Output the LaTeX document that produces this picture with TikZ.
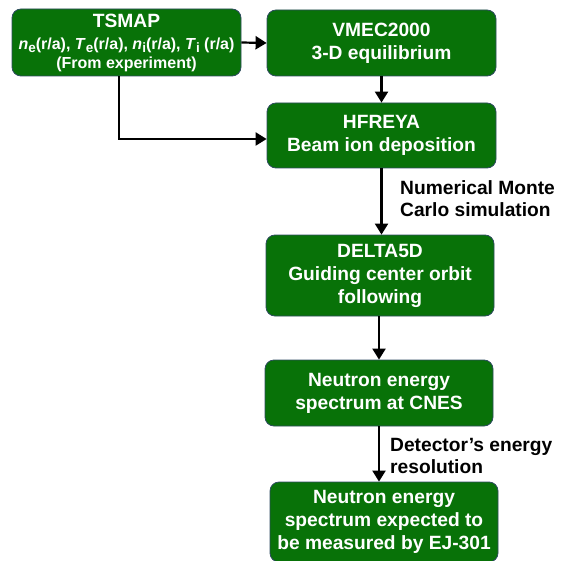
\documentclass[tikz,border=0pt]{standalone}
\usepackage{fontspec}
\setmainfont{Liberation Sans}
\usetikzlibrary{arrows.meta}
\definecolor{boxgreen}{RGB}{8,114,8}
\definecolor{boxedge}{RGB}{45,75,95}
\newcommand{\sub}[1]{\raisebox{-3pt}{\fontsize{13.5}{13.5}\selectfont #1}}
\begin{document}
\begin{tikzpicture}[x=1pt,y=-1pt,
  box/.style={draw=boxedge, line width=0.8pt, fill=boxgreen, rounded corners=9pt,
    text=white, font=\bfseries\fontsize{19.2}{23}\selectfont, align=center, inner sep=0pt},
  flow/.style={draw=black, line width=2.2pt, -{Triangle[length=11pt,width=13pt]}},
  note/.style={font=\bfseries\fontsize{19.2}{22}\selectfont, align=left, inner sep=0pt, anchor=west}]
\useasboundingbox (0,0) rectangle (561,561);
\node[box, minimum width=229pt, minimum height=67pt, font=\bfseries\fontsize{16}{19}\selectfont] (tsmap) at (126.5,42.5)
  {{\fontsize{19.2}{19}\selectfont TSMAP}\\[3pt]
   \textit{n}\sub{e}(r/a), \textit{T}\sub{e}(r/a), \textit{n}\sub{i}(r/a), \textit{T}\sub{i} (r/a)\\
   (From experiment)};
\node[box, minimum width=229pt, minimum height=66pt] (vmec) at (381.5,43) {VMEC2000\\3-D equilibrium};
\node[box, minimum width=229pt, minimum height=65pt] (hfreya) at (381.5,135.5) {HFREYA\\Beam ion deposition};
\node[box, minimum width=228pt, minimum height=81pt] (delta) at (380,275.5) {DELTA5D\\Guiding center orbit\\following};
\node[box, minimum width=228pt, minimum height=66pt] (cnes) at (379,393) {Neutron energy\\spectrum at CNES};
\node[box, minimum width=228pt, minimum height=80pt] (ej) at (384,522) {Neutron energy\\spectrum expected to\\be measured by EJ-301};
\node[note] (mc) at (400,199) {Numerical Monte\\Carlo simulation};
\node[note] (det) at (390,456) {Detector’s energy\\resolution};
\coordinate (bend) at (119,139);
\draw[flow] (tsmap.east) -- (vmec.west);
\draw[flow] (vmec.south) -- (hfreya.north);
\draw[flow] (tsmap.south -| bend) -- (bend) -- (hfreya.west |- bend);
\draw[flow] (hfreya.south) -- (hfreya.south |- delta.north);
\draw[flow] (delta.south -| cnes.north) -- (cnes.north);
\draw[flow] (cnes.south) -- (cnes.south |- ej.north);
\end{tikzpicture}
\end{document}
